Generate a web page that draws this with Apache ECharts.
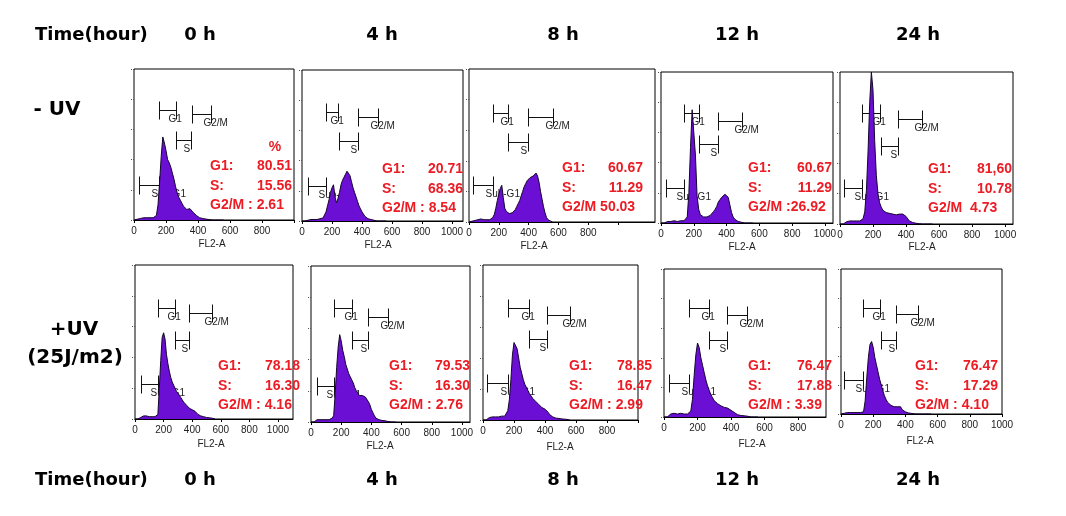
<!DOCTYPE html>
<html>
<head>
<meta charset="utf-8">
<script src="https://cdn.jsdelivr.net/npm/echarts@6/dist/echarts.min.js"></script>
<style>
html,body{margin:0;padding:0;background:#fff;}
#c{width:1066px;height:516px;}
</style>
</head>
<body>
<div id="c"></div>
<script>
// ---------- DATA ----------
const TIMES = ['0 h', '4 h', '8 h', '12 h', '24 h'];
const ROW_LABELS = ['- UV', '+UV', '(25J/m2)'];
const TIME_TITLE = 'Time(hour)';
const AXIS_NAME = 'FL2-A';
const MARK_NAMES = ['Sub-G1', 'G1', 'S', 'G2/M'];
// FL2-A channel bins (x of each histogram point)
const XS = [0,10,20,30,40,50,60,70,80,90,100,110,120,130,140,150,160,170,180,190,200,210,220,230,240,250,260,270,280,290,300,310,320,330,340,350,360,370,380,390,400,410,420,430,440,450,460,470,480,490,500,510,520,530,540,550,560];
// histogram heights (% of panel height), -UV row
const H_NUV_0  = [0,0,0.5,1,1,1.5,1.5,1.5,1.5,1.5,1.5,1.5,1.5,2,3,10,25,42,55,51,46,40,38,35,31,27,22,18,15,13,11,9,8,7,7,7.5,7,5,4,3,2,1.5,1,1,0.8,0.6,0.5,0.3,0.2,0,0,0,0,0,0,0,0];
const H_NUV_4  = [0,0,0,0,0.5,0.5,1,1,1,1,1,1,1.5,1.5,2,3,6,10,14,19,22,24,16,12,15,19,24,27,29,31,33,34,30,26,22,19,16,13,10,8,6,5,3,2,1.5,1,1,0.8,0.5,0.3,0,0,0,0,0,0,0];
const H_NUV_8  = [0,0,0.5,1,1,1.5,1.5,2,2,1.5,1.5,1.5,1.5,1.5,1.5,2,3,5,9,14,18,22,24,16,9,7,6,5.5,5.5,6,7,8,10,12,14,17,20,23,25,27,28,29,30,30,31,32,30,26,20,15,10,6,3,1.5,1,0.5,0];
const H_NUV_12 = [0,0,0,0.5,1,1,1,1.5,1.5,1,1,1.5,1.5,1.5,1.5,2,4,20,50,75,74,45,18,9,5.5,4.5,4,4,4,4.5,5,6,7.5,9,11,14,15.5,17,18,19,18.5,17,12,7,4,2.5,1.5,1,0.8,0.5,0.3,0,0,0,0,0,0];
const H_NUV_24 = [0,0,0,0.5,1.5,1.5,2,2,2,2,2,2,2,2.5,3.5,8,22,48,80,100,88,55,32,20,14,11,9,8,7.5,7,7,7,6.5,6.5,6,6,6.5,7,6.5,5.5,5,4,2,1.5,1,0.8,0.5,0.3,0.2,0,0,0,0,0,0,0,0];
// +UV row
const H_UV_0  = [0,0,0,0.5,1,1.5,2,2,2,2,1.5,1.5,1.5,1.5,1.5,2,3,20,38,53,56,52,42,36,31,27,24,22,20,18,17,15.5,14,12.5,11,10,9,8,7,6.5,6,5.5,5,4,3,2.5,2,2,1.5,1,1,1,0.8,0.6,0.5,0.3,0];
const H_UV_4  = [0,0,0,0.5,1.5,1.5,1.5,1.5,1.5,1.5,1.5,1.5,1.5,2,2.5,4,18,35,48,56,52,46,42,37,34,31,29,27,25,22,20,18.5,17,17,17,17,16,15,13,11,8,6,4,2.5,2,1.5,1,1,1,0.8,0.5,0.3,0,0,0,0,0];
const H_UV_8  = [0,0,0,0.5,1.5,1.5,2,2,2,2,2,2,2.5,2.5,2.5,3,6,13,26,42,50,51,46,40,34,30,26,23,21,19,17,15.5,14,13,12,11,10,9,8,7.5,7,6,5,3.5,2.5,2,1.5,1.2,1,1,0.8,0.7,0.6,0.5,0.4,0.3,0];
const H_UV_12 = [0,0,0,1,2,2.5,2.5,2,2,2.5,2.5,2,2,2,2,2.5,4,12,28,42,50,47,40,35,30,25,21,18,15,13,11,10,9,8,7.5,7,6.5,6,6,5,4.5,4,3,2,1.5,1.2,1,1,0.8,0.7,0.5,0.4,0,0,0,0,0];
const H_UV_24 = [0,0,0.5,1,1,1,1,1,1,1,1,1,1,1,1.5,9,25,39,48,50,46,39,34,29,24,20,16,12.5,10,8,7,6,5.5,5,5,5,5.5,5,3,2,1.5,1,0.7,0.5,0.4,0.3,0,0,0,0,0,0,0,0,0,0,0];
// markers [x1, x2, height %] in order Sub-G1, G1, S, G2/M
const M_NUV_0  = [[32,158,23.5],[158,263,73],[263,358,53],[362,480,70]];
const M_NUV_4  = [[42,158,23],[158,238,72],[249,375,53],[375,504,69]];
const M_NUV_8  = [[29,162,24],[162,262,71.5],[262,396,52],[396,562,68.5]];
const M_NUV_12 = [[28,142,23.5],[142,234,73],[234,345,52],[345,492,67.5]];
const M_NUV_24 = [[26,135,24],[135,242,73],[246,354,51],[354,499,69]];
const M_UV_0  = [[40,163,23],[163,280,72],[280,380,51],[380,541,69]];
const M_UV_4  = [[37,155,23],[155,269,73],[269,375,52.5],[375,512,67]];
const M_UV_8  = [[28,163,24],[163,299,72.5],[299,415,52],[415,561,68]];
const M_UV_12 = [[32,151,23],[151,271,73.5],[271,374,52],[374,497,69]];
const M_UV_24 = [[21,139,23.6],[139,242,73],[246,340,51],[340,480,69]];
// percentages text
const G1_VALS = ['80.51','20.71','60.67','60.67','81,60','78.18','79.53','78.85','76.47','76.47'];
const S_VALS  = ['15.56','68.36','11.29','11.29','10.78','16.30','16.30','16.47','17.88','17.29'];
const G2M_TEXT = ['G2/M : 2.61','G2/M : 8.54','G2/M 50.03','G2/M :26.92','G2/M  4.73','G2/M : 4.16','G2/M : 2.76','G2/M : 2.99','G2/M : 3.39','G2/M : 4.10'];
const X_TICKS = [0,200,400,600,800,1000];
const X_TICKS_SHORT = [0,200,400,600,800];

const HISTS = [H_NUV_0,H_NUV_4,H_NUV_8,H_NUV_12,H_NUV_24,H_UV_0,H_UV_4,H_UV_8,H_UV_12,H_UV_24];
const MARKS = [M_NUV_0,M_NUV_4,M_NUV_8,M_NUV_12,M_NUV_24,M_UV_0,M_UV_4,M_UV_8,M_UV_12,M_UV_24];

// ---------- LAYOUT (pixels) ----------
// grid: left, top, width, height, xmax, labelsShort
const GRIDS = [
  [134,69,160,151,1000,true],
  [302,70,161,151,1073,false],
  [469,69,186,153,1248,true],
  [661,72,172,151,1049,false],
  [840,72,173,152,1048,false],
  [135,265,158,154,1105,false],
  [311,266,159,156,1053,false],
  [483,265,155,155,1000,true],
  [664,269,162,148,967,true],
  [841,269,161,145,1000,false]
];
// stats text: label left x, value right x, first line y
const STATS_POS = [
  [210,292,166],[382,463,169],[562,643,168],[748,832,168],[928,1012,169],
  [218,300,366],[389,470,366],[569,652,366],[748,832,366],[915,998,366]
];
const NAME_POS = [[212,244],[378,245],[534,246],[742,247],[922,247],[211,444],[380,446],[560,447],[752,444],[920,441]];
const TIME_X = [200,382,563,737,918];

const RED = '#ec1c24';
const PURPLE = '#6b0fd4';

const chart = echarts.init(document.getElementById('c'), null, {renderer:'canvas'});

const grid = [], xAxis = [], yAxis = [], series = [], graphic = [];
GRIDS.forEach((g, i) => {
  grid.push({left:g[0], top:g[1], width:g[2], height:g[3], show:true, borderColor:'#000', borderWidth:1, backgroundColor:'#fff', containLabel:false});
  const ticks = g[5] ? X_TICKS_SHORT : X_TICKS;
  xAxis.push({
    type:'value', gridIndex:i, min:0, max:g[4],
    axisLine:{show:true, lineStyle:{color:'#000', width:1}},
    axisTick:{show:true, length:3, customValues:X_TICKS, lineStyle:{color:'#000'}},
    axisLabel:{show:true, customValues:ticks, fontSize:10, color:'#222', margin:6, fontFamily:'Liberation Sans', formatter: v => String(v)},
    splitLine:{show:false}
  });
  yAxis.push({
    type:'value', gridIndex:i, min:0, max:100, interval:20, offset:3,
    axisLine:{show:false},
    axisTick:{show:true, length:4, lineStyle:{color:'#555', type:'dotted'}},
    axisLabel:{show:false},
    splitLine:{show:false}
  });
  series.push({
    type:'custom', xAxisIndex:i, yAxisIndex:i, z:1, clip:false, silent:true,
    data: MARKS[i],
    encode:{x:[0,1], y:2},
    renderItem: function(params, api){
      const y = api.value(2);
      const p1 = api.coord([api.value(0), y]);
      const p2 = api.coord([api.value(1), y]);
      const h = 9;
      const ax = Math.round(p1[0]) + 0.5, bx = Math.round(p2[0]) + 0.5, yy = Math.round(p1[1]) + 0.5;
      const st = {stroke:'#111', lineWidth:1};
      return {type:'group', children:[
        {type:'line', shape:{x1:ax, y1:yy, x2:bx, y2:yy}, style:st},
        {type:'line', shape:{x1:ax, y1:yy-h, x2:ax, y2:yy+h}, style:st},
        {type:'line', shape:{x1:bx, y1:yy-h, x2:bx, y2:yy+h}, style:st},
        {type:'text', x:bx-8, y:yy+9, style:{text:MARK_NAMES[params.dataIndex], font:'10px "Liberation Sans"', fill:'#222', textAlign:'left', textVerticalAlign:'middle'}}
      ]};
    }
  });
  series.push({
    type:'line', xAxisIndex:i, yAxisIndex:i, z:2, silent:true,
    data: XS.map((x, k) => [x, HISTS[i][k]]),
    showSymbol:false, symbol:'none', smooth:false,
    lineStyle:{color:'#15052e', width:1},
    areaStyle:{color:PURPLE, opacity:1}
  });
  // stats text
  const s = STATS_POS[i];
  const font = 'bold 14px "Liberation Sans"';
  graphic.push({type:'text', x:s[0], y:s[2], z:50, style:{text:'G1:', font, fill:RED, textAlign:'left', textVerticalAlign:'middle'}});
  graphic.push({type:'text', x:s[1], y:s[2], z:50, style:{text:G1_VALS[i], font, fill:RED, textAlign:'right', textVerticalAlign:'middle'}});
  graphic.push({type:'text', x:s[0], y:s[2]+20, z:50, style:{text:'S:', font, fill:RED, textAlign:'left', textVerticalAlign:'middle'}});
  graphic.push({type:'text', x:s[1], y:s[2]+20, z:50, style:{text:S_VALS[i], font, fill:RED, textAlign:'right', textVerticalAlign:'middle'}});
  graphic.push({type:'text', x:s[0], y:s[2]+39, z:50, style:{text:G2M_TEXT[i], font, fill:RED, textAlign:'left', textVerticalAlign:'middle'}});
  // axis name
  graphic.push({type:'text', x:NAME_POS[i][0], y:NAME_POS[i][1], z:50, style:{text:AXIS_NAME, font:'10px "Liberation Sans"', fill:'#222', textAlign:'center', textVerticalAlign:'middle'}});
});
graphic.push({type:'text', x:275, y:147, z:50, style:{text:'%', font:'bold 14px "Liberation Sans"', fill:RED, textAlign:'center', textVerticalAlign:'middle'}});

// headers
const hfont = 'bold 18px "DejaVu Sans"';
[35, 480].forEach(y => {
  graphic.push({type:'text', x:35, y:y, style:{text:TIME_TITLE, font:hfont, fill:'#000', textAlign:'left', textVerticalAlign:'middle'}});
  TIMES.forEach((t, j) => {
    graphic.push({type:'text', x:TIME_X[j], y:y, style:{text:t, font:hfont, fill:'#000', textAlign:'center', textVerticalAlign:'middle'}});
  });
});
const rfont = 'bold 20px "DejaVu Sans"';
graphic.push({type:'text', x:57, y:110, style:{text:ROW_LABELS[0], font:rfont, fill:'#000', textAlign:'center', textVerticalAlign:'middle'}});
graphic.push({type:'text', x:74, y:330, style:{text:ROW_LABELS[1], font:rfont, fill:'#000', textAlign:'center', textVerticalAlign:'middle'}});
graphic.push({type:'text', x:75, y:358, style:{text:ROW_LABELS[2], font:rfont, fill:'#000', textAlign:'center', textVerticalAlign:'middle'}});

chart.setOption({
  animation:false,
  backgroundColor:'#fff',
  grid, xAxis, yAxis, series, graphic
});
</script>
</body>
</html>
